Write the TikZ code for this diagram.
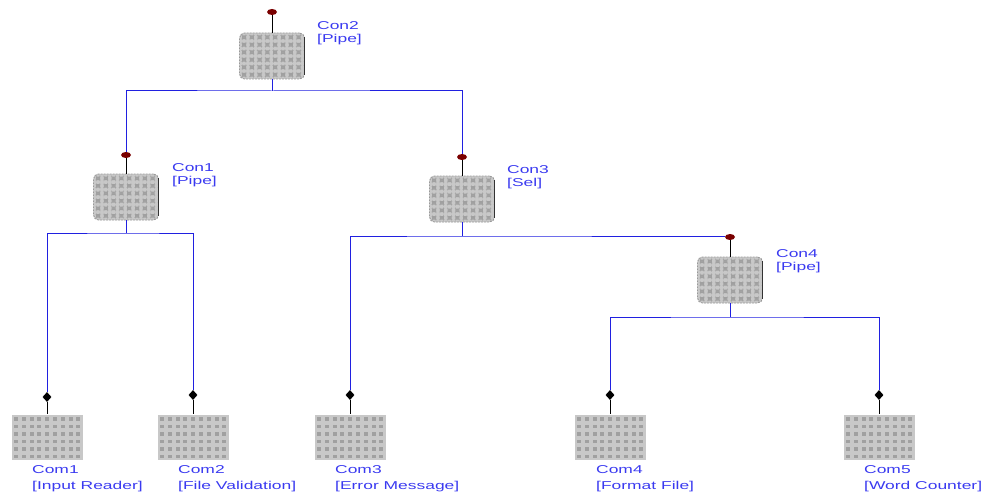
\documentclass[tikz,border=0pt]{standalone}
\usepackage{fontspec}
\usetikzlibrary{shapes.geometric}
\newfontfamily\lblfont[FakeStretch=1.53]{Liberation Sans}
\definecolor{lblblue}{HTML}{3A3AF0}
\definecolor{wireblue}{HTML}{2020E0}
\definecolor{boxfill}{HTML}{C8C8C8}
\definecolor{boxdot}{HTML}{A0A0A0}
\definecolor{condot}{HTML}{7A0000}
\begin{document}
\begin{tikzpicture}[x=1pt,y=-1pt,
  gridfill/.style={path picture={
    \foreach \i in {0,...,9}{\foreach \j in {0,...,6}{
      \fill[boxdot] ([xshift=\i*7.8pt+2.5pt, yshift=-\j*7.5pt-2.5pt]path picture bounding box.north west) rectangle ++(4pt,-3.6pt);}}}},
  conbox/.style={draw=gray!80, dashed, dash pattern=on 2pt off 1pt, line width=0.9pt, fill=boxfill, rounded corners=5pt, minimum width=65pt, minimum height=46pt, inner sep=0pt, gridfill},
  combox/.style={fill=boxfill, draw=none, minimum width=71pt, minimum height=45pt, inner sep=0pt, gridfill},
  wire/.style={draw=wireblue, line width=1pt},
  stub/.style={draw=black, line width=1pt},
  rdot/.style={ellipse, fill=condot, minimum width=10pt, minimum height=6pt, inner sep=0pt},
  bdot/.style={diamond, fill=black, minimum width=9pt, minimum height=10pt, inner sep=0pt},
  lbl/.style={text=lblblue, font=\lblfont\fontsize{11.4}{12}\selectfont, anchor=base west, inner sep=0pt}
]
\useasboundingbox (0,0) rectangle (983,495);

% containers
\node[conbox] (con2) at (272,56) {};
\node[conbox] (con1) at (126,197) {};
\node[conbox] (con3) at (462,199) {};
\node[conbox] (con4) at (730,280) {};
\foreach \n in {con2,con1,con3,con4}{
  \draw[black!80, line width=1pt] ([yshift=-4pt]\n.north east) -- ([yshift=4pt]\n.south east);
}

% components
\node[combox] (com1) at (47,437) {};
\node[combox] (com2) at (193,437) {};
\node[combox] (com3) at (350,437) {};
\node[combox] (com4) at (610,437) {};
\node[combox] (com5) at (879,437) {};

% junction points
\coordinate (h2) at (272,91);
\coordinate (h1) at (126,233);
\coordinate (h3) at (462,236);
\coordinate (h4) at (730,317);

% wires
\draw[wire] (con2.south) -- (h2);
\draw[wire] (con1.south) -- (h1);
\draw[wire] (con3.south) -- (h3);
\draw[wire] (con4.south) -- (h4);

% dots
\node[rdot] (d2) at (272,12) {};
\node[rdot] (d1) at (126,155) {};
\node[rdot] (d3) at (462,157) {};
\node[rdot] (d4) at (730,237) {};
\node[bdot] (c1) at (47,397) {};
\node[bdot] (c2) at (193,395) {};
\node[bdot] (c3) at (350,395) {};
\node[bdot] (c4) at (610,395) {};
\node[bdot] (c5) at (879,395) {};

\draw[wire] (d1.north) |- (h2) -| (d3.north);
\draw[wire] (c1.north) |- (h1) -| (c2.north);
\draw[wire] (c3.north) |- (h3) -| (d4.west);
\draw[wire] (c4.north) |- (h4) -| (c5.north);

% stubs
\foreach \d/\b in {d2/con2,d1/con1,d3/con3,d4/con4,c1/com1,c2/com2,c3/com3,c4/com4,c5/com5}{
  \draw[stub] (\d.south) -- (\b.north);
}

% labels
\node[lbl] (l2a) at (317,30) {Con2};
\node[lbl] (l2b) at (317,43) {[Pipe]};
\node[lbl] (l1a) at (172,171) {Con1};
\node[lbl] (l1b) at (172,184) {[Pipe]};
\node[lbl] (l3a) at (507,173) {Con3};
\node[lbl] (l3b) at (507,186) {[Sel]};
\node[lbl] (l4a) at (776,257) {Con4};
\node[lbl] (l4b) at (776,270) {[Pipe]};
\node[lbl] (m1a) at (32,473) {Com1};
\node[lbl] (m1b) at (32,489) {[Input Reader]};
\node[lbl] (m2a) at (178,473) {Com2};
\node[lbl] (m2b) at (178,489) {[File Validation]};
\node[lbl] (m3a) at (335,473) {Com3};
\node[lbl] (m3b) at (335,489) {[Error Message]};
\node[lbl] (m4a) at (596,473) {Com4};
\node[lbl] (m4b) at (596,489) {[Format File]};
\node[lbl] (m5a) at (864,473) {Com5};
\node[lbl] (m5b) at (864,489) {[Word Counter]};
\end{tikzpicture}
\end{document}
